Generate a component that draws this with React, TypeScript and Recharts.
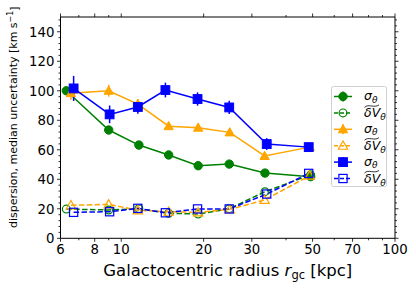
import { ComposedChart, Line, XAxis, YAxis, ErrorBar, Legend } from "recharts";

// galactocentric radius [kpc] and velocities [km/s]
const greenR = [6.3, 9.0, 11.6, 14.9, 19.1, 24.8, 33.5, 49.2];
const greenSigma = [100, 73.4, 63.2, 56.5, 49.2, 50.3, 44.2, 41.8];
const greenSigmaErr = [1.5, 1.5, 1.5, 1.5, 1.5, 1.5, 1.5, 1.5];
const greenDelta = [19.8, 19.2, 20, 17, 16.4, 20, 31.6, 43];

const orangeR = [6.55, 9.0, 11.5, 14.9, 19.1, 24.9, 33.4, 48.8];
const orangeSigma = [98.4, 100, 91, 76, 75, 71.8, 55.8, 61.8];
const orangeSigmaErr = [4.5, 4, 3.5, 2.5, 2.5, 2.5, 2.5, 2.5];
const orangeDelta = [22.4, 23, 19, 18, 17.6, 19.6, 26, 42.5];

const blueR = [6.7, 9.07, 11.5, 14.5, 19.0, 24.8, 34.0, 48.4];
const blueSigma = [101.6, 84, 89, 100.5, 94.4, 88.7, 63.9, 61.8];
const blueSigmaErr = [8.5, 6, 4.5, 5, 4.5, 4.5, 4, 3];
const blueDelta = [17.6, 18, 20.3, 17.3, 19.9, 19.9, 30, 44];

const xMajor = [6, 8, 10, 20, 30, 50, 70, 100];
const xMinor = [7, 9, 40, 60, 80, 90];
const yMajor = [0, 20, 40, 60, 80, 100, 120, 140];
const yMinor = [4, 8, 12, 16, 24, 28, 32, 36, 44, 48, 52, 56, 64, 68, 72, 76, 84, 88, 92, 96,
  104, 108, 112, 116, 124, 128, 132, 136, 144, 148];

const GREEN = "#008000";
const ORANGE = "#ffa500";
const BLUE = "#0000ff";
const FONT = "DejaVu Sans";

const xTicks = [...xMajor, ...xMinor].sort((a, b) => a - b);
const yTicks = [...yMajor, ...yMinor].sort((a, b) => a - b);

const rows = (r: number[], v: number[], e?: number[]) =>
  r.map((x, i) => ({ r: x, v: v[i], e: e ? e[i] : 0 }));

type Shape = "circle" | "triangle" | "square";

function markerEl(shape: Shape, color: string, filled: boolean, cx: number, cy: number, key?: any) {
  const fill = filled ? color : "none";
  const sw = filled ? 1 : 1.2;
  if (shape === "circle") return <circle key={key} cx={cx} cy={cy} r={filled ? 4.2 : 3.9} fill={fill} stroke={color} strokeWidth={sw} />;
  if (shape === "square") {
    const h = filled ? 4.4 : 4.1;
    return <rect key={key} x={cx - h} y={cy - h} width={2 * h} height={2 * h} fill={fill} stroke={color} strokeWidth={sw} />;
  }
  const h = 4.7;
  return <path key={key} d={`M${cx},${cy - h}L${cx - h},${cy + h * 0.75}L${cx + h},${cy + h * 0.75}Z`} fill={fill} stroke={color} strokeWidth={sw} strokeLinejoin="miter" />;
}

const dotFn = (shape: Shape, color: string, filled: boolean) => (p: any) =>
  markerEl(shape, color, filled, p.cx, p.cy, p.index);

const series = [
  { data: rows(greenR, greenSigma, greenSigmaErr), color: GREEN, shape: "circle" as Shape, filled: true, err: true },
  { data: rows(greenR, greenDelta), color: GREEN, shape: "circle" as Shape, filled: false, err: false },
  { data: rows(orangeR, orangeSigma, orangeSigmaErr), color: ORANGE, shape: "triangle" as Shape, filled: true, err: true },
  { data: rows(orangeR, orangeDelta), color: ORANGE, shape: "triangle" as Shape, filled: false, err: false },
  { data: rows(blueR, blueSigma, blueSigmaErr), color: BLUE, shape: "square" as Shape, filled: true, err: true },
  { data: rows(blueR, blueDelta), color: BLUE, shape: "square" as Shape, filled: false, err: false },
];

const BottomTick = (p: any) => {
  const major = xMajor.includes(p.payload.value);
  return (
    <g>
      <line x1={p.x} x2={p.x} y1={p.y} y2={p.y + (major ? 3.5 : 2)} stroke="#000" strokeWidth={0.8} />
      {major && (
        <text x={p.x} y={p.y + 6} dy="0.76em" textAnchor="middle" fontSize={13.3} fontFamily={FONT} fill="#000">
          {p.payload.value}
        </text>
      )}
    </g>
  );
};

const TopTick = (p: any) => {
  const major = xMajor.includes(p.payload.value);
  return <line x1={p.x} x2={p.x} y1={p.y} y2={p.y - (major ? 3.5 : 2)} stroke="#000" strokeWidth={0.8} />;
};

const LeftTick = (p: any) => {
  const major = yMajor.includes(p.payload.value);
  return (
    <g>
      <line x1={p.x} x2={p.x - (major ? 3.5 : 2)} y1={p.y} y2={p.y} stroke="#000" strokeWidth={0.8} />
      {major && (
        <text x={p.x - 6} y={p.y} dy="0.36em" textAnchor="end" fontSize={13.3} fontFamily={FONT} fill="#000">
          {p.payload.value}
        </text>
      )}
    </g>
  );
};

const RightTick = (p: any) => {
  const major = yMajor.includes(p.payload.value);
  return <line x1={p.x} x2={p.x + (major ? 3.5 : 2)} y1={p.y} y2={p.y} stroke="#000" strokeWidth={0.8} />;
};

const SigmaLabel = ({ x, y }: { x: number; y: number }) => (
  <text x={x} y={y} fontSize={12.5} fontFamily={FONT} fontStyle="italic" fill="#000">
    σ<tspan fontSize={9} dy={2.5}>θ</tspan>
  </text>
);

const DeltaLabel = ({ x, y }: { x: number; y: number }) => (
  <g>
    <path d={`M${x + 0.5},${y - 10} C${x + 4.5},${y - 14} ${x + 10},${y - 9} ${x + 15},${y - 12.5}`} fill="none" stroke="#000" strokeWidth={0.8} />
    <text x={x} y={y} fontSize={12.5} fontFamily={FONT} fontStyle="italic" fill="#000">
      δV<tspan fontSize={9} dy={2.5}>θ</tspan>
    </text>
  </g>
);

const LegendBox = () => (
  <svg width={57} height={102} style={{ display: "block" }}>
    <rect x={0.5} y={0.5} width={55} height={100} rx={2} fill="#fff" fillOpacity={0.8} stroke="#d0d0d0" strokeWidth={1} />
    {series.map((s, i) => {
      const cy = 10.5 + i * 16.4;
      return (
        <g key={i}>
          <line x1={3} x2={21} y1={cy} y2={cy} stroke={s.color} strokeWidth={1.5} strokeDasharray={s.filled ? undefined : "4 2"} />
          {s.err && <line x1={12} x2={12} y1={cy - 5} y2={cy + 5} stroke={s.color} strokeWidth={1.5} />}
          {markerEl(s.shape, s.color, s.filled, 12, cy)}
          {s.filled ? <SigmaLabel x={33} y={cy + 3.5} /> : <DeltaLabel x={33} y={cy + 4.5} />}
        </g>
      );
    })}
  </svg>
);

export default function App() {
  return (
    <div style={{ position: "absolute", left: 0, top: 0, width: 416, height: 290, background: "#fff" }}>
      <ComposedChart width={416} height={290} margin={{ top: 16, right: 20, bottom: 0, left: 0 }}>
        <XAxis
          dataKey="r" type="number" scale="log" domain={[6, 100]} allowDataOverflow
          ticks={xTicks} interval={0} tickSize={0} tickMargin={0} tickLine={false}
          tick={BottomTick} height={51.7} axisLine={{ stroke: "#000", strokeWidth: 1 }}
          label={{
            content: (lp: any) => {
              const vb = lp.viewBox;
              return (
                <text x={vb.x + vb.width / 2} y={vb.y + 38} textAnchor="middle" fontSize={16.5} fontFamily={FONT} fill="#000">
                  Galactocentric radius <tspan fontStyle="italic">r</tspan>
                  <tspan fontSize={11.5} dy={3}>gc</tspan>
                  <tspan dy={-3}> [kpc]</tspan>
                </text>
              );
            },
          }}
        />
        <XAxis
          xAxisId="top" orientation="top" dataKey="r" type="number" scale="log" domain={[6, 100]} allowDataOverflow
          ticks={xTicks} interval={0} tickSize={0} tickMargin={0} tickLine={false}
          tick={TopTick} height={1} axisLine={{ stroke: "#000", strokeWidth: 1 }}
        />
        <YAxis
          type="number" domain={[0, 150]} allowDataOverflow ticks={yTicks} interval={0}
          tickSize={0} tickMargin={0} tickLine={false} tick={LeftTick} width={60.5}
          axisLine={{ stroke: "#000", strokeWidth: 1 }}
          label={{
            content: (lp: any) => {
              const vb = lp.viewBox;
              const cx = vb.x + 14;
              const cy = vb.y + vb.height / 2 - 10.5;
              return (
                <text x={cx} y={cy} transform={`rotate(-90 ${cx} ${cy})`} textAnchor="middle" dominantBaseline="central" fontSize={11} fontFamily={FONT} fill="#000">
                  dispersion, median uncertainty [km s<tspan fontSize={8} dy={-4}>−1</tspan>
                  <tspan dy={4}>]</tspan>
                </text>
              );
            },
          }}
        />
        <YAxis
          yAxisId="right" orientation="right" type="number" domain={[0, 150]} allowDataOverflow
          ticks={yTicks} interval={0} tickSize={0} tickMargin={0} tickLine={false} tick={RightTick}
          width={1} axisLine={{ stroke: "#000", strokeWidth: 1 }}
        />
        {series.map((s, i) => (
          <Line
            key={i} data={s.data} dataKey="v" type="linear" stroke={s.color} strokeWidth={1.5}
            strokeDasharray={s.filled ? undefined : "5.5 2.4"} dot={dotFn(s.shape, s.color, s.filled)}
            activeDot={false} isAnimationActive={false} legendType="none"
          >
            {s.err && <ErrorBar dataKey="e" direction="y" width={0} stroke={s.color} strokeWidth={1.5} isAnimationActive={false} />}
          </Line>
        ))}
        <Legend
          layout="horizontal" verticalAlign="middle" align="center"
          content={() => <LegendBox />}
          wrapperStyle={{ left: 331, top: 86, width: 57, height: 102 }}
        />
      </ComposedChart>
    </div>
  );
}
